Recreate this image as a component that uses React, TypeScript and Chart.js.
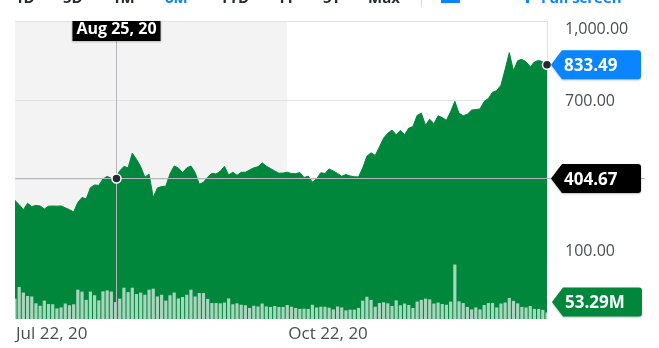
import React, { useEffect, useRef } from "react";
import { Chart, registerables } from "chart.js";

Chart.register(...registerables);

// ---------- data ----------
const tradingDays: string[] = [
  "2020-07-22", "2020-07-23", "2020-07-24", "2020-07-27", "2020-07-28", "2020-07-29", "2020-07-30", "2020-07-31",
  "2020-08-03", "2020-08-04", "2020-08-05", "2020-08-06", "2020-08-07", "2020-08-10", "2020-08-11", "2020-08-12",
  "2020-08-13", "2020-08-14", "2020-08-17", "2020-08-18", "2020-08-19", "2020-08-20", "2020-08-21", "2020-08-24",
  "2020-08-25", "2020-08-26", "2020-08-27", "2020-08-28", "2020-08-31",
  "2020-09-01", "2020-09-02", "2020-09-03", "2020-09-04", "2020-09-08", "2020-09-09", "2020-09-10", "2020-09-11",
  "2020-09-14", "2020-09-15", "2020-09-16", "2020-09-17", "2020-09-18", "2020-09-21", "2020-09-22", "2020-09-23",
  "2020-09-24", "2020-09-25", "2020-09-28", "2020-09-29", "2020-09-30",
  "2020-10-01", "2020-10-02", "2020-10-05", "2020-10-06", "2020-10-07", "2020-10-08", "2020-10-09", "2020-10-12",
  "2020-10-13", "2020-10-14", "2020-10-15", "2020-10-16", "2020-10-19", "2020-10-20", "2020-10-21", "2020-10-22",
  "2020-10-23", "2020-10-26", "2020-10-27", "2020-10-28", "2020-10-29", "2020-10-30",
  "2020-11-02", "2020-11-03", "2020-11-04", "2020-11-05", "2020-11-06", "2020-11-09", "2020-11-10", "2020-11-11",
  "2020-11-12", "2020-11-13", "2020-11-16", "2020-11-17", "2020-11-18", "2020-11-19", "2020-11-20", "2020-11-23",
  "2020-11-24", "2020-11-25", "2020-11-27", "2020-11-30",
  "2020-12-01", "2020-12-02", "2020-12-03", "2020-12-04", "2020-12-07", "2020-12-08", "2020-12-09", "2020-12-10",
  "2020-12-11", "2020-12-14", "2020-12-15", "2020-12-16", "2020-12-17", "2020-12-18", "2020-12-21", "2020-12-22",
  "2020-12-23", "2020-12-24", "2020-12-28", "2020-12-29", "2020-12-30", "2020-12-31",
  "2021-01-04", "2021-01-05", "2021-01-06", "2021-01-07", "2021-01-08", "2021-01-11", "2021-01-12", "2021-01-13",
  "2021-01-14", "2021-01-15", "2021-01-19", "2021-01-20", "2021-01-21", "2021-01-22",
];

const closePrices: number[] = [
  318.47, 302.61, 283.4, 307.92, 295.3, 299.82, 297.5, 286.15,
  297.0, 297.4, 297.0, 297.92, 290.54, 283.71, 274.88, 310.95,
  330.14, 324.2, 367.13, 377.42, 375.71, 400.37, 409.99, 402.84,
  404.67, 430.63, 447.75, 442.68, 498.32,
  475.05, 447.37, 407.0, 418.32, 330.21, 366.28, 371.34, 372.72,
  419.62, 449.76, 441.76, 423.43, 442.15, 449.39, 424.23, 380.36,
  387.79, 407.34, 421.2, 419.07, 429.01,
  448.16, 415.09, 425.68, 413.98, 425.3, 425.92, 434.0, 442.3,
  446.65, 461.3, 448.88, 439.67, 430.83, 421.94, 422.64, 425.79,
  420.63, 420.28, 424.68, 406.02, 410.83, 388.04,
  400.51, 423.9, 420.98, 438.09, 429.95, 421.26, 410.36, 417.13,
  411.76, 408.5, 408.09, 441.61, 486.64, 499.27, 489.61, 521.85,
  555.38, 574.0, 585.76, 567.6,
  584.76, 568.82, 593.38, 599.04, 641.76, 649.88, 604.48, 627.07,
  609.99, 639.83, 633.25, 622.77, 655.9, 695.0, 649.86, 640.34,
  645.98, 661.77, 663.69, 665.99, 694.78, 705.67,
  729.77, 735.11, 755.98, 816.04, 880.02, 811.19, 849.44, 854.41,
  845.0, 826.16, 844.55, 850.45, 844.99, 833.49,
];

// volume in millions of shares
const volumesM: number[] = [
  82, 130, 107, 93, 91, 63, 53, 74,
  60, 59, 42, 46, 62, 55, 59, 119,
  111, 77, 111, 96, 75, 112, 116, 111,
  68, 82, 127, 109, 127,
  101, 107, 98, 119, 123, 91, 98, 74,
  96, 107, 83, 89, 98, 119, 91, 105,
  105, 81, 64, 64, 63,
  66, 83, 59, 63, 57, 55, 44, 53,
  50, 62, 50, 48, 52, 48, 48, 56,
  49, 44, 40, 41, 40, 57,
  46, 49, 49, 45, 38, 50, 46, 34,
  37, 37, 44, 74, 90, 77, 49, 64,
  67, 63, 52, 75,
  55, 62, 56, 44, 70, 77, 82, 79,
  62, 66, 60, 57, 70, 222, 71, 64,
  48, 38, 46, 38, 56, 64,
  64, 46, 62, 66, 85, 73, 63, 48,
  46, 52, 40, 40, 36, 25,
];

const priceTicks: number[] = [100, 400, 700, 1000];
const axisDates: string[] = ["2020-07-22", "2020-10-22"];
const crosshairDate = "2020-08-25";
const lastPrice = 833.49;
const lastVolumeM = 53.29;
const rangeButtons: string[] = ["1D", "5D", "1M", "6M", "YTD", "1Y", "5Y", "Max"];
const activeRange = "6M";

// ---------- styling ----------
const GREEN = "#00873c";
const BLUE = "#0a84ff";
const DARK = "#232a31";
const LABEL = "#464e56";
const FONT = "'Open Sans', 'DejaVu Sans', sans-serif";
const MONTHS = ["Jan", "Feb", "Mar", "Apr", "May", "Jun", "Jul", "Aug", "Sep", "Oct", "Nov", "Dec"];

function fmtDate(iso: string): string {
  const [y, m, d] = iso.split("-");
  return `${MONTHS[Number(m) - 1]} ${Number(d)}, ${y.slice(2)}`;
}
function fmtPrice(v: number): string {
  return v.toLocaleString("en-US", { minimumFractionDigits: 2, maximumFractionDigits: 2 });
}

function drawTag(ctx: CanvasRenderingContext2D, tipX: number, y: number, text: string, bg: string) {
  const h = 29, aw = 11, w = 90, r = 3;
  const top = y - h / 2, bot = y + h / 2, right = tipX + w;
  ctx.save();
  ctx.shadowColor = "rgba(0,0,0,0.25)";
  ctx.shadowBlur = 2;
  ctx.shadowOffsetY = 1;
  ctx.fillStyle = bg;
  ctx.beginPath();
  ctx.moveTo(tipX, y);
  ctx.lineTo(tipX + aw, top);
  ctx.lineTo(right - r, top);
  ctx.arcTo(right, top, right, top + r, r);
  ctx.lineTo(right, bot - r);
  ctx.arcTo(right, bot, right - r, bot, r);
  ctx.lineTo(tipX + aw, bot);
  ctx.closePath();
  ctx.fill();
  ctx.restore();
  ctx.save();
  ctx.fillStyle = "#ffffff";
  ctx.font = `bold 17px ${FONT}`;
  ctx.textAlign = "left";
  ctx.textBaseline = "alphabetic";
  ctx.fillText(text, tipX + 13, y + 6);
  ctx.restore();
}

function drawDot(ctx: CanvasRenderingContext2D, x: number, y: number) {
  ctx.save();
  ctx.beginPath();
  ctx.arc(x, y, 4.5, 0, Math.PI * 2);
  ctx.fillStyle = DARK;
  ctx.fill();
  ctx.lineWidth = 1.5;
  ctx.strokeStyle = "#ffffff";
  ctx.stroke();
  ctx.restore();
}

const overlayPlugin = {
  id: "yahooOverlay",
  beforeDatasetsDraw(chart: any) {
    const { ctx, chartArea: a, scales } = chart;
    const x = scales.x, y = scales.y;
    ctx.save();
    const shadeEnd = x.getPixelForValue(tradingDays.indexOf(axisDates[1]));
    ctx.fillStyle = "#f3f3f3";
    ctx.fillRect(a.left, a.top, shadeEnd - a.left, a.bottom - a.top);
    ctx.strokeStyle = "#e2e2e2";
    ctx.lineWidth = 1;
    for (const t of priceTicks) {
      const py = Math.round(y.getPixelForValue(t)) + 0.5;
      ctx.beginPath();
      ctx.moveTo(a.left, py);
      ctx.lineTo(a.right, py);
      ctx.stroke();
    }
    ctx.restore();
  },
  afterDatasetsDraw(chart: any) {
    const { ctx, chartArea: a, scales } = chart;
    const x = scales.x, y = scales.y, yV = scales.yV;

    // right border of price panel
    ctx.save();
    ctx.strokeStyle = "#e2e2e2";
    ctx.lineWidth = 1;
    ctx.beginPath();
    ctx.moveTo(Math.round(a.right) + 0.5, a.top);
    ctx.lineTo(Math.round(a.right) + 0.5, y.getPixelForValue(priceTicks[0]));
    ctx.stroke();
    ctx.restore();

    // y labels
    const volTagY = Math.min(yV.getPixelForValue(lastVolumeM), a.bottom - 17);
    ctx.save();
    ctx.fillStyle = LABEL;
    ctx.font = `16px ${FONT}`;
    ctx.textAlign = "left";
    ctx.textBaseline = "alphabetic";
    for (const t of priceTicks) {
      let py = y.getPixelForValue(t);
      py = Math.max(a.top + 7, Math.min(py, volTagY - 52));
      ctx.fillText(fmtPrice(t), a.right + 18, py + 6);
    }
    // x labels
    ctx.font = `17px ${FONT}`;
    for (const d of axisDates) {
      const px = x.getPixelForValue(tradingDays.indexOf(d));
      ctx.fillText(fmtDate(d), px + 1, a.bottom + 20);
    }
    ctx.restore();

    // crosshair
    const ci = tradingDays.indexOf(crosshairDate);
    const cx = Math.round(x.getPixelForValue(ci)) + 0.5;
    const cy = Math.round(y.getPixelForValue(closePrices[ci])) + 0.5;
    ctx.save();
    ctx.strokeStyle = "#b4b8bc";
    ctx.lineWidth = 1;
    ctx.beginPath();
    ctx.moveTo(cx, a.top);
    ctx.lineTo(cx, a.bottom);
    ctx.moveTo(a.left, cy);
    ctx.lineTo(a.right + 98, cy);
    ctx.stroke();
    ctx.restore();

    // dots
    const li = closePrices.length - 1;
    const lx = x.getPixelForValue(li);
    const ly = y.getPixelForValue(lastPrice);
    drawDot(ctx, cx, cy);
    drawDot(ctx, lx, ly);

    // tags
    drawTag(ctx, a.right + 4, ly, fmtPrice(lastPrice), BLUE);
    drawTag(ctx, a.right + 4, cy, fmtPrice(closePrices[ci]), "#000000");
    drawTag(ctx, a.right + 5, volTagY, `${lastVolumeM.toFixed(2)}M`, GREEN);

    // date tag
    ctx.save();
    ctx.font = `bold 16px ${FONT}`;
    const dt = fmtDate(crosshairDate);
    const tw = ctx.measureText(dt).width;
    const bw = tw + 8;
    ctx.shadowColor = "rgba(0,0,0,0.25)";
    ctx.shadowBlur = 2;
    ctx.shadowOffsetY = 1;
    ctx.fillStyle = "#000000";
    ctx.fillRect(cx - bw / 2, a.top, bw, 20);
    ctx.shadowColor = "transparent";
    ctx.fillStyle = "#ffffff";
    ctx.textAlign = "center";
    ctx.textBaseline = "alphabetic";
    ctx.fillText(dt, cx, a.top + 13);
    ctx.restore();

    // top range bar (cut off at top of the frame)
    const btnX = [15, 63, 112, 165, 220, 277, 323, 368];
    ctx.save();
    ctx.font = `bold 15px ${FONT}`;
    ctx.textAlign = "left";
    ctx.textBaseline = "alphabetic";
    rangeButtons.forEach((b, i) => {
      ctx.fillStyle = b === activeRange ? BLUE : DARK;
      ctx.fillText(b, btnX[i], 3);
    });
    ctx.fillStyle = "#d6d8da";
    ctx.fillRect(421, 0, 1, 7);
    ctx.fillStyle = BLUE;
    ctx.fillRect(441, 0, 19, 3);
    ctx.fillRect(526, 0, 3, 3);
    ctx.fillText("Full screen", 541, 3);
    ctx.restore();
  },
};

export default function App() {
  const canvasRef = useRef<HTMLCanvasElement | null>(null);

  useEffect(() => {
    if (!canvasRef.current) return;
    const chart = new Chart(canvasRef.current, {
      type: "line",
      data: {
        labels: tradingDays,
        datasets: [
          {
            type: "line",
            label: "Close",
            data: closePrices,
            yAxisID: "y",
            fill: "start",
            backgroundColor: GREEN,
            borderColor: GREEN,
            borderWidth: 1,
            pointRadius: 0,
            tension: 0,
            order: 1,
          } as any,
          {
            type: "bar",
            label: "Volume",
            data: volumesM,
            yAxisID: "yV",
            backgroundColor: "rgba(255,255,255,0.66)",
            barThickness: 2.5,
            order: 0,
          } as any,
        ],
      },
      options: {
        animation: false,
        responsive: false,
        maintainAspectRatio: false,
        events: [],
        layout: { padding: { left: 15, top: 21, right: 112, bottom: 29 } },
        plugins: { legend: { display: false }, tooltip: { enabled: false } },
        scales: {
          x: { type: "category", display: false, offset: false },
          y: { display: false, min: -131.6, max: 1000 },
          yV: { display: false, min: 0, max: 1222 },
        },
      },
      plugins: [overlayPlugin],
    } as any);
    return () => chart.destroy();
  }, []);

  return (
    <div style={{ position: "absolute", left: 0, top: 0, width: 659, height: 348, background: "#ffffff" }}>
      <canvas ref={canvasRef} width={659} height={348} style={{ width: 659, height: 348, display: "block" }} />
    </div>
  );
}
